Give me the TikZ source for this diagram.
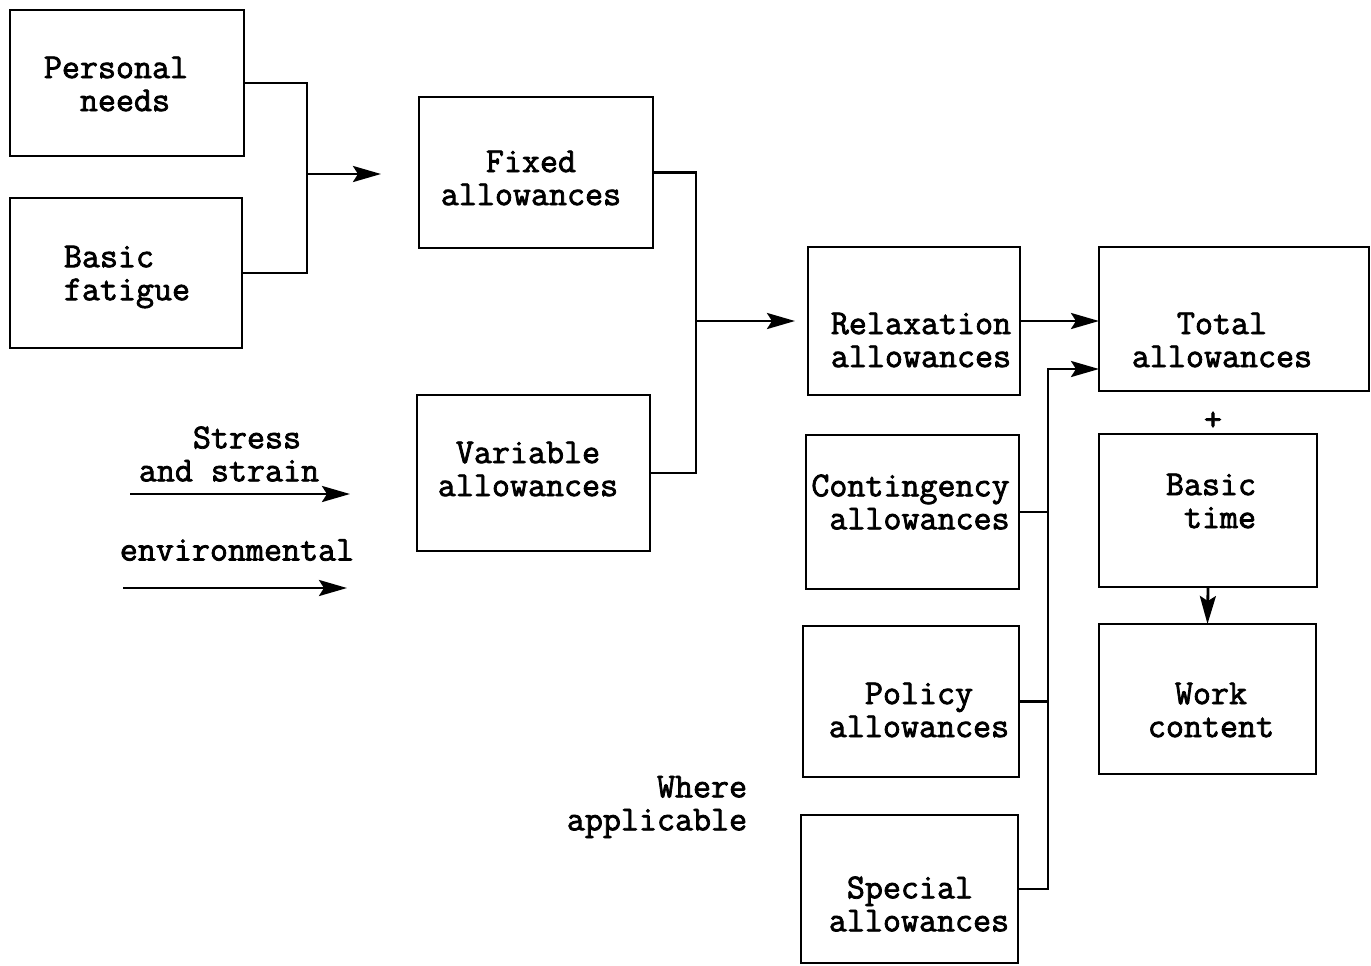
\documentclass[tikz,border=0pt]{standalone}
\usepackage{fontspec}
\newfontfamily\typew[FakeBold=2.2]{Latin Modern Mono}
\usetikzlibrary{arrows.meta,calc}
\tikzset{
  box/.style={draw, line width=1.4pt, rectangle, inner sep=0pt, outer sep=0pt},
  txt/.style={font=\typew\fontsize{17.5}{16.5}\selectfont, inner sep=0pt},
  conn/.style={line width=1.4pt},
  arr/.style={line width=1.4pt, -{Stealth[length=14pt,width=8pt,inset=2.5pt]}}
}
\newcommand\mybox[5]{\node[box, minimum width={(#4)*0.5pt}, minimum height={(#5)*0.5pt}] (#1) at (#2,#3) {};}
\begin{document}
\begin{tikzpicture}[x=0.5pt,y=-0.5pt]
\useasboundingbox (0,0) rectangle (1371,965);
% boxes
\mybox{pn}{127}{83}{234}{146}
\mybox{bf}{126}{273}{232}{150}
\mybox{fx}{536}{172.5}{234}{151}
\mybox{va}{533.5}{473}{233}{156}
\mybox{re}{914}{321}{212}{148}
\mybox{co}{912.5}{512}{213}{154}
\mybox{po}{911}{701.5}{216}{151}
\mybox{sp}{909.5}{889}{217}{148}
\mybox{to}{1234}{319}{270}{144}
\mybox{bt}{1208}{510.5}{218}{153}
\mybox{wc}{1207.5}{699}{217}{150}
% texts
\node[txt, align=left] (tpn) at (116,84) {Personal\\\phantom{xx}needs};
\node[txt, align=left] (tbf) at (127,277) {Basic\\fatigue};
\node[txt, align=center] (tfx) at (531,178) {Fixed\\allowances};
\node[txt, align=center] (tva) at (528,469) {Variable\\allowances};
\node[txt, align=center] (tre) at (921,340) {Relaxation\\allowances};
\node[txt, align=right] (tco) at (910.5,502) {Contingency\\allowances};
\node[txt, align=center] (tpo) at (919,710) {Policy\\allowances};
\node[txt, align=left] (tsp) at (919,904) {\phantom{x}Special\\allowances};
\node[txt, align=center] (tto) at (1222,340) {Total\\allowances};
\node[txt, align=right] (tbt) at (1211,501) {Basic\\time};
\node[txt, align=center] (twc) at (1211,710) {Work\\content};
\node[txt, align=center] (tss) at (229,454) {\phantom{xx}Stress\\and strain};
\node[txt] (tev) at (237,550) {environmental};
\node[txt, align=right] (twa) at (657,807) {Where\\applicable};
\node[txt] (plus) at (1213,421) {+};
% junctions
\coordinate (j1) at (307,174);
\coordinate (a1) at (381,174);
\coordinate (j2) at (696,321);
\coordinate (a2) at (795,321);
\coordinate (bus) at (1048,369);
\coordinate (s1) at (130,494);
\coordinate (s2) at (350,494);
\coordinate (e1) at (123,588);
\coordinate (e2) at (347,588);
% connectors
\draw[conn] (pn.east) -| (j1) |- (bf.east);
\draw[arr] (j1) -- (a1);
\draw[conn] (fx.east) -| (j2) |- (va.east);
\draw[arr] (j2) -- (a2);
\draw[arr] (re.east) -- (re.east -| to.west);
\draw[arr] (sp.east) -| (bus) -- (bus -| to.west);
\draw[conn] (co.east) -- (co.east -| bus);
\draw[conn] (po.east) -- (po.east -| bus);
\draw[arr] (bt.south) -- (wc.north);
\draw[arr] (s1) -- (s2);
\draw[arr] (e1) -- (e2);
\end{tikzpicture}
\end{document}
